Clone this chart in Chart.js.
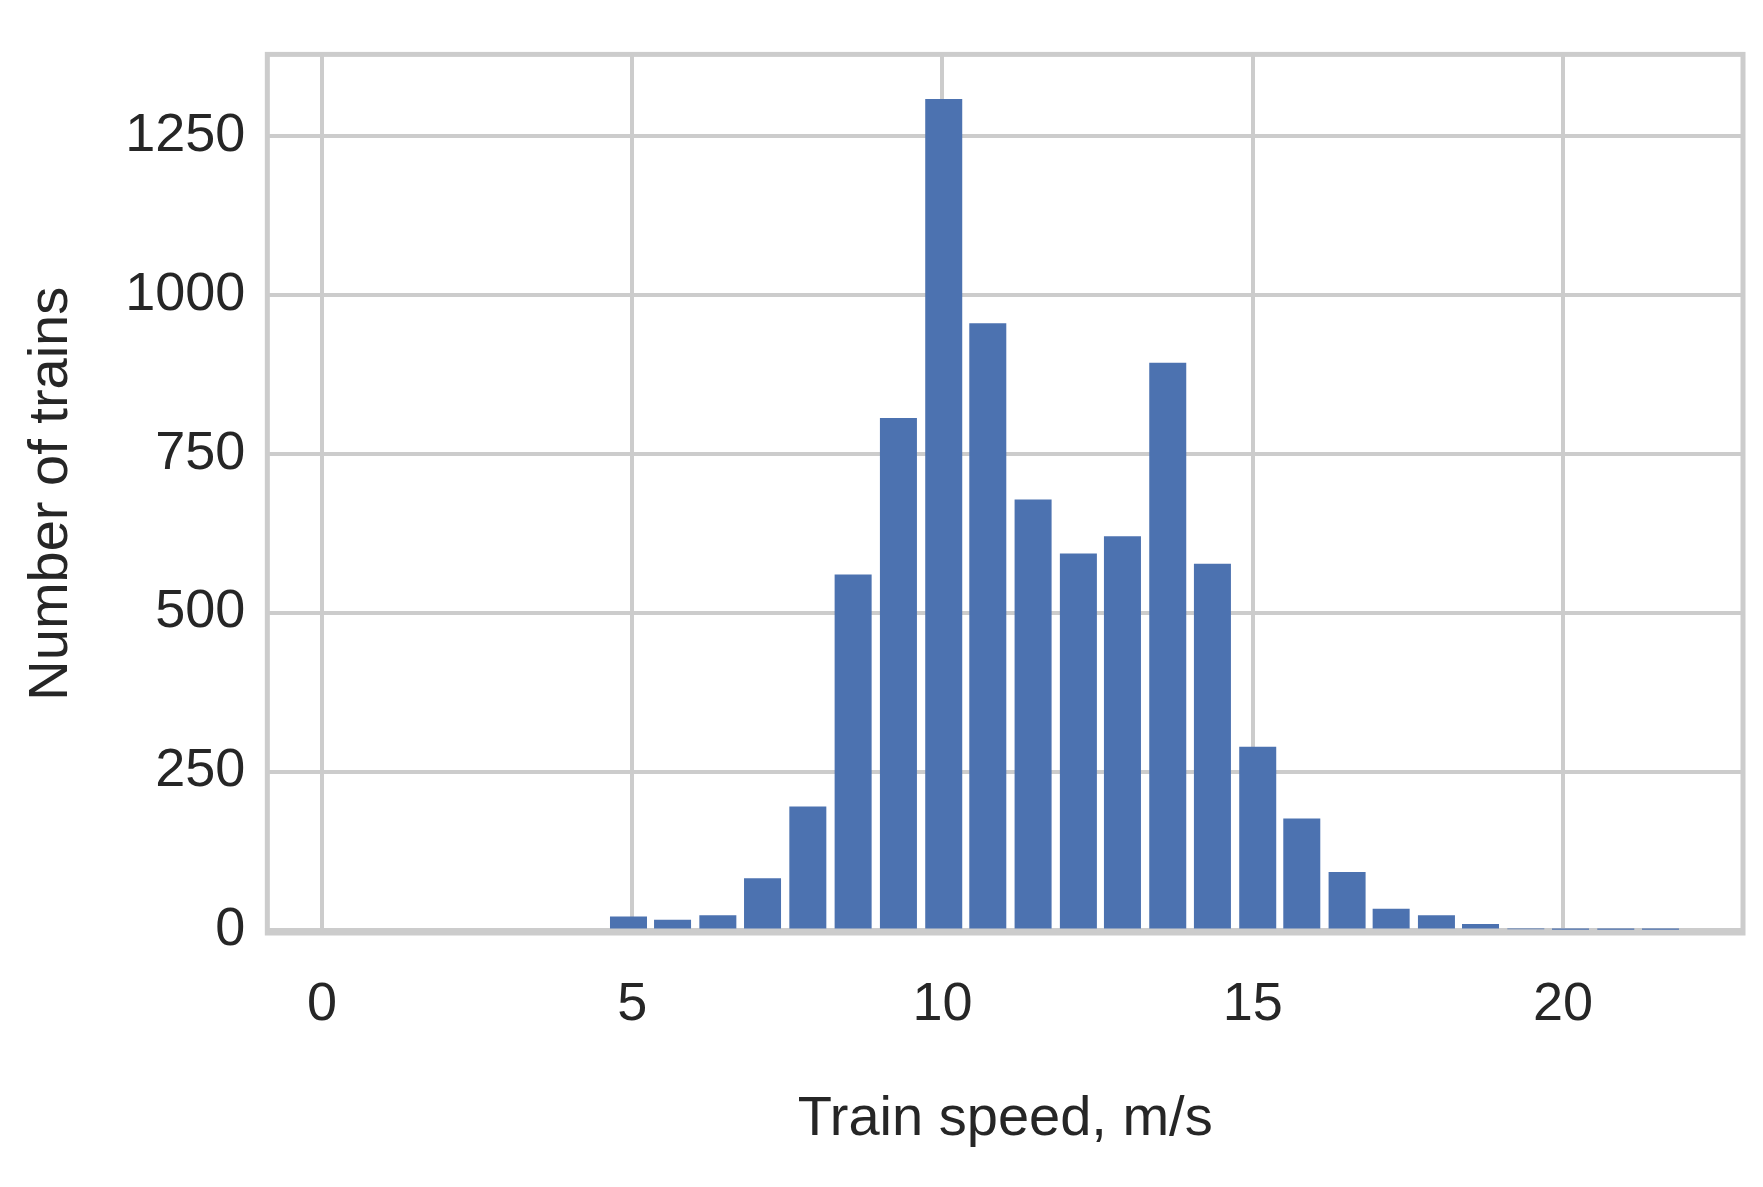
<!DOCTYPE html>
<html>
<head>
<meta charset="utf-8">
<script src="https://cdn.jsdelivr.net/npm/chart.js@4"></script>
<style>
  html, body { margin: 0; padding: 0; background: #fff; }
  #wrap { width: 1763px; height: 1187px; }
</style>
</head>
<body>
<div id="wrap"><canvas id="c"></canvas></div>
<script>
// Bin centres (m/s) and counts
var speed_bins = [4.94, 5.65, 6.38, 7.1, 7.83, 8.56, 9.29, 10.02, 10.73, 11.46,
	12.19, 12.9, 13.63, 14.35, 15.08, 15.79, 16.52, 17.23, 17.96, 18.67,
	19.4, 20.12, 20.85, 21.57];
var train_counts = [22, 17, 24, 82, 195, 560, 806, 1308, 955, 678,
	593, 620, 893, 577, 289, 176, 92, 34, 24, 10,
	2, 1, 1, 1];
var x_ticks = [0, 5, 10, 15, 20];
var y_ticks = [0, 250, 500, 750, 1000, 1250];

var points = [];
for (var i = 0; i < speed_bins.length; i++) {
	points.push({x: speed_bins[i], y: train_counts[i]});
}

// draws the grey frame around the plot area
var framePlugin = {
	id: 'frame',
	afterDraw: function (chart) {
		var a = chart.chartArea, ctx = chart.ctx;
		ctx.save();
		ctx.strokeStyle = '#cccccc';
		ctx.lineWidth = 5;
		ctx.strokeRect(a.left, a.top, a.right - a.left, a.bottom - a.top);
		ctx.restore();
	}
};

var font = 'Liberation Sans, Arial, sans-serif';
var plain = function (v) { return String(v); };

new Chart(document.getElementById('c'), {
	type: 'bar',
	data: {
		datasets: [{
			data: points,
			backgroundColor: '#4c72b0',
			barPercentage: 0.84,
			categoryPercentage: 1.0
		}]
	},
	options: {
		responsive: true,
		maintainAspectRatio: false,
		animation: false,
		layout: { padding: { top: 22, right: 20, left: 14, bottom: 30 } },
		plugins: { legend: { display: false }, tooltip: { enabled: false } },
		scales: {
			x: {
				type: 'linear',
				offset: false,
				min: -0.88, max: 22.9,
				afterBuildTicks: function (s) { s.ticks = x_ticks.map(function (v) { return {value: v}; }); },
				grid: { color: '#cccccc', lineWidth: 4, drawTicks: false, offset: false },
				border: { display: false },
				ticks: { color: '#262626', font: { family: font, size: 54 }, padding: 40, callback: plain },
				title: { display: true, text: 'Train speed, m/s', color: '#262626',
					font: { family: font, size: 56 }, padding: { top: 8 } }
			},
			y: {
				min: -4, max: 1378,
				afterBuildTicks: function (s) { s.ticks = y_ticks.map(function (v) { return {value: v}; }); },
				grid: { color: '#cccccc', lineWidth: 4, drawTicks: false },
				border: { display: false },
				ticks: { color: '#262626', font: { family: font, size: 54 }, padding: 22, callback: plain },
				title: { display: true, text: 'Number of trains', color: '#262626',
					font: { family: font, size: 56 }, padding: { bottom: 18 } }
			}
		}
	},
	plugins: [framePlugin]
});
</script>
</body>
</html>
